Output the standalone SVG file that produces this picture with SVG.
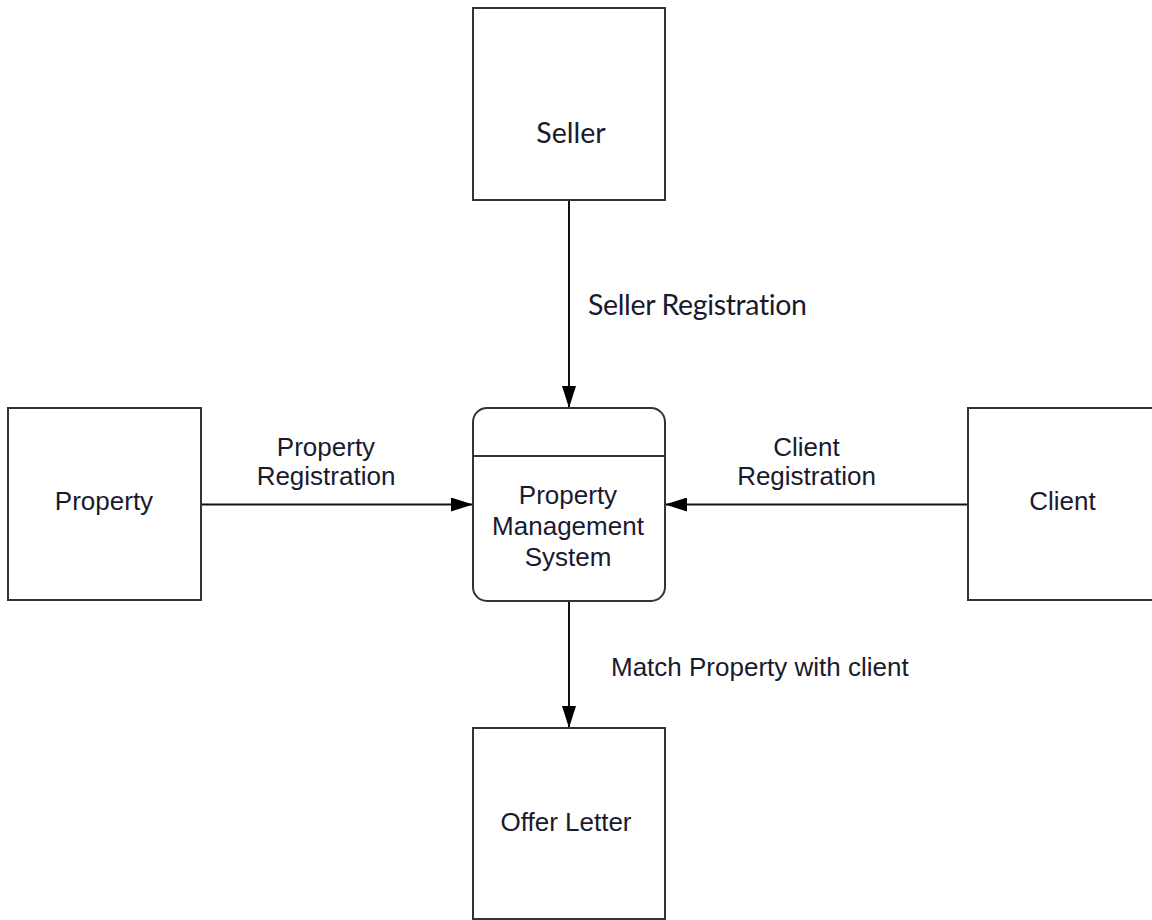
<svg xmlns="http://www.w3.org/2000/svg" width="1152" height="920" viewBox="0 0 1152 920">
  <style>
    .box { fill: #ffffff; stroke: #333333; stroke-width: 2; }
    .conn { fill: none; stroke: #111111; stroke-width: 2; }
    .t { font-family: "Liberation Sans", Arial, sans-serif; font-size: 26px; fill: #1a1a2e; text-anchor: middle; }
    .tl { font-family: "Liberation Sans", Arial, sans-serif; font-size: 26px; fill: #1a1a2e; }
    .c { font-family: Lato, "Open Sans", sans-serif; font-size: 28.5px; fill: #1a1a2e; font-variant-ligatures: none; font-feature-settings: "liga" 0; }
  </style>
  <defs>
    <marker id="arrow" viewBox="0 0 22 14" refX="22" refY="7" markerWidth="22" markerHeight="14" markerUnits="userSpaceOnUse" orient="auto">
      <path d="M0,0 L22,7 L0,14 Z" fill="#000000"/>
    </marker>
  </defs>
  <rect width="1152" height="920" fill="#ffffff"/>

  <g id="connectors">
    <line class="conn" x1="569" y1="200" x2="569" y2="408" marker-end="url(#arrow)"/>
    <line class="conn" x1="201" y1="504.5" x2="473" y2="504.5" marker-end="url(#arrow)"/>
    <line class="conn" x1="968" y1="504.5" x2="665" y2="504.5" marker-end="url(#arrow)"/>
    <line class="conn" x1="569" y1="601" x2="569" y2="728" marker-end="url(#arrow)"/>
    <text class="c" x="588" y="315" textLength="219">Seller Registration</text>
    <text class="t" x="326" y="456">Property</text>
    <text class="t" x="326" y="485">Registration</text>
    <text class="t" x="806.5" y="456">Client</text>
    <text class="t" x="806.5" y="485">Registration</text>
    <text class="tl" x="611" y="676">Match Property with client</text>
  </g>

  <g id="seller">
    <rect class="box" x="473" y="8" width="192" height="192"/>
    <text class="c" x="571" y="143" text-anchor="middle">Seller</text>
  </g>

  <g id="property">
    <rect class="box" x="8" y="408" width="193" height="192"/>
    <text class="t" x="104" y="510">Property</text>
  </g>

  <g id="pms">
    <rect class="box" x="473" y="408" width="192" height="193" rx="14" ry="14"/>
    <line class="box" x1="473" y1="456" x2="665" y2="456"/>
    <text class="t" x="568" y="504">Property</text>
    <text class="t" x="568" y="535">Management</text>
    <text class="t" x="568" y="566">System</text>
  </g>

  <g id="client">
    <rect class="box" x="968" y="408" width="193" height="192"/>
    <text class="t" x="1062.5" y="510">Client</text>
  </g>

  <g id="offer-letter">
    <rect class="box" x="473" y="728" width="192" height="191"/>
    <text class="t" x="566" y="831">Offer Letter</text>
  </g>
</svg>
